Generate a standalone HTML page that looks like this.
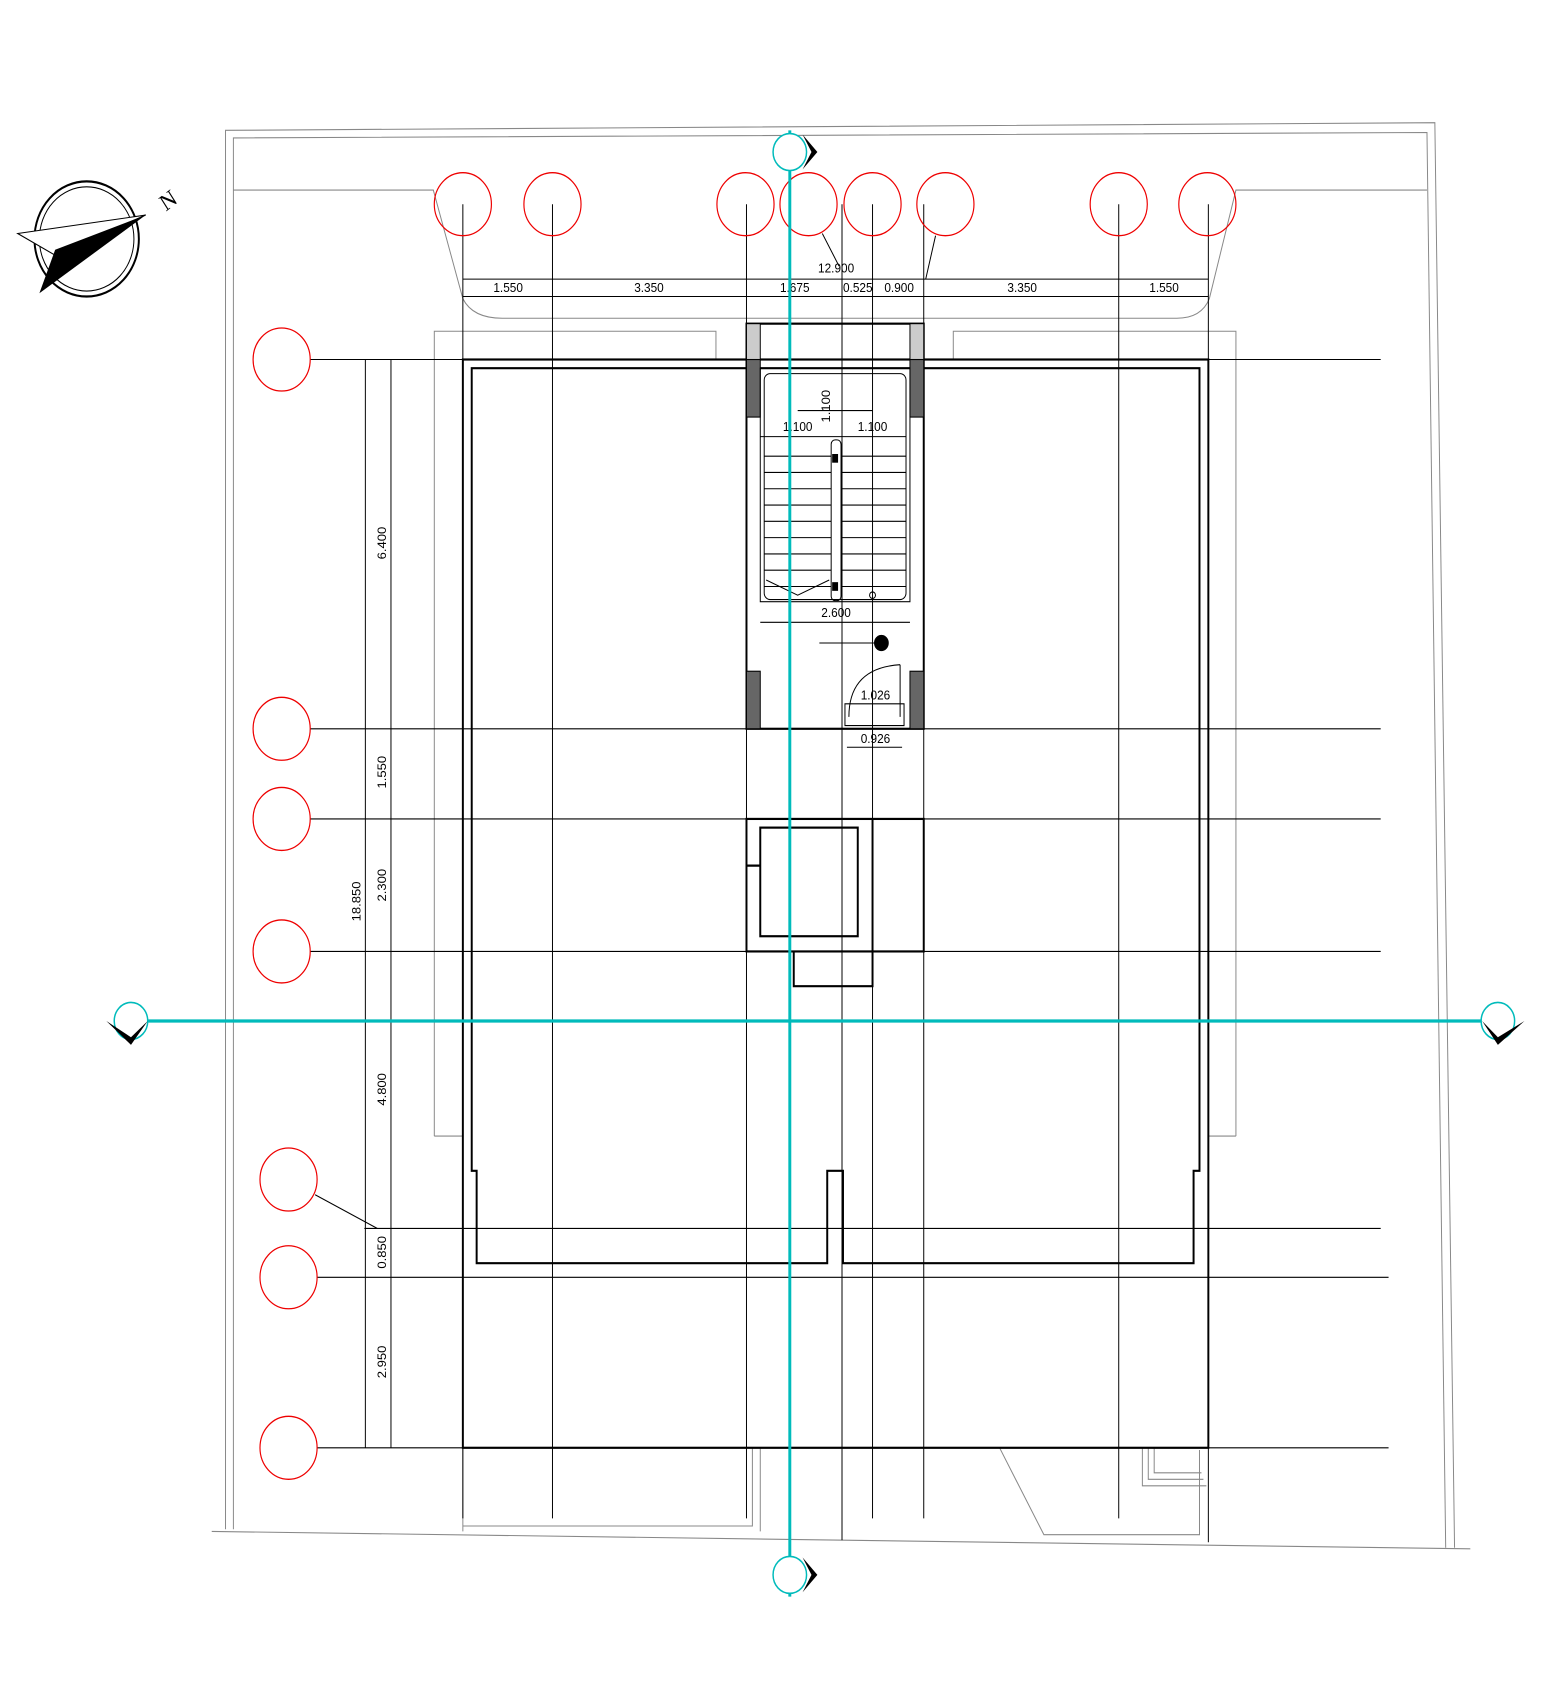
<!DOCTYPE html><html><head><style>body{margin:0;background:#fff}svg{display:block}</style></head><body>
<svg width="1544" height="1702" viewBox="0 0 1544 1560" preserveAspectRatio="none" xmlns="http://www.w3.org/2000/svg" font-family="Liberation Sans, sans-serif" font-size="12">
<g transform="scale(0.9848,0.9955)">
<g fill="none" stroke="#888" stroke-width="1">
<polyline points="215,1410 1493,1426"/><polyline points="229,1408 229,120 1457,113 1477,1425"/>
<polyline points="237,1408 237,127 1449,122 1468,1425"/>
<path d="M237,175 H440 L470,275 Q480,293 510,293 H1195 Q1220,293 1228,275 L1255,175 H1449"/>
<path d="M470,1333 V1410 M470,1405 H764 V1333 M772,1333 V1410 M1015,1333 L1060,1413 H1218 V1335"/>
<path d="M1160,1333 V1368 H1225 M1166,1333 V1362 H1222 M1172,1333 V1356 H1220"/>
<path d="M441,1046 V305 H727 V331 M1255,1046 V305 H968 V331 M441,1046 H470 M1227,1046 H1255"/>
</g>
<g stroke="#000" stroke-width="1" fill="none">
<path d="M470,188 V1398 M561,188 V1398 M758,188 V1398 M855,188 V1418 M886,188 V1398 M938,188 V1398 M1136,188 V1398 M1227,188 V1420"/>
<path d="M315,331 H1402 M315,671 H1402 M315,754 H1402 M315,876 H1402 M370,1131 H1402 M322,1176 H1410 M322,1333 H1410"/>
<path d="M371,331 V1333 M397,331 V1333 M320,1100 L383,1131"/>
<path d="M470,257 H1227 M470,273 H1227 M835,215 L852,245 M950,217 L940,257"/>
</g>
<g stroke="#000" stroke-width="2" fill="none">
<rect x="470" y="331" width="757" height="1002"/>
<path d="M479,1078 V339 H1218 V1078 H1212 V1163 H856 V1078 H840 V1163 H484 V1078 Z"/>
<rect x="758" y="298" width="180" height="373"/>
<rect x="758" y="754" width="180" height="122"/><rect x="772" y="762" width="99" height="100"/>
<path d="M886,754 V876 M758,797 H772 M806,876 V908 H886 V876"/>
</g>
<g fill="#666" stroke="#000"><rect x="758" y="331" width="14" height="53"/><rect x="924" y="331" width="14" height="53"/><rect x="758" y="618" width="14" height="53"/><rect x="924" y="618" width="14" height="53"/></g>
<g fill="#ccc" stroke="#000"><rect x="758" y="298" width="14" height="33"/><rect x="924" y="298" width="14" height="33"/></g>
<g stroke="#000" stroke-width="1" fill="none">
<rect x="772" y="339" width="152" height="215"/><rect x="776" y="344" width="144" height="208" rx="6"/>
<rect x="844" y="405" width="10" height="148" rx="4"/>
<path d="M776,420 H844 M776,435 H844 M776,450 H844 M776,465 H844 M776,480 H844 M776,495 H844 M776,510 H844 M776,525 H844 M776,540 H844"/>
<path d="M854,420 H920 M854,435 H920 M854,450 H920 M854,465 H920 M854,480 H920 M854,495 H920 M854,510 H920 M854,525 H920 M854,540 H920"/>
<path d="M778,534 L810,548 L842,534 M772,402 H920 M810,378 H886 M772,573 H924 M832,592 H895 M914,612 V660 M862,660 Q862,615 914,612 M858,648 H918 V668 H858 Z M860,688 H916"/>
<circle cx="895" cy="592" r="7" fill="#000"/><circle cx="886" cy="548" r="3"/>
</g>
<g fill="#000"><rect x="845" y="418" width="6" height="8"/><rect x="845" y="536" width="6" height="8"/></g>
<g fill="#000" font-size="12" text-anchor="middle">
<text x="849" y="251">12.900</text><text x="516" y="269">1.550</text><text x="659" y="269">3.350</text><text x="807" y="269">1.675</text><text x="871" y="269">0.525</text><text x="913" y="269">0.900</text><text x="1038" y="269">3.350</text><text x="1182" y="269">1.550</text>
<text x="810" y="397">1.100</text><text x="886" y="397">1.100</text><text x="849" y="568">2.600</text><text x="889" y="644">1.026</text><text x="889" y="684">0.926</text>
<text transform="translate(392,500) rotate(-90)">6.400</text><text transform="translate(392,711) rotate(-90)">1.550</text><text transform="translate(392,815) rotate(-90)">2.300</text><text transform="translate(366,830) rotate(-90)">18.850</text><text transform="translate(392,1003) rotate(-90)">4.800</text><text transform="translate(392,1153) rotate(-90)">0.850</text><text transform="translate(392,1254) rotate(-90)">2.950</text><text transform="translate(843,374) rotate(-90)">1.100</text>
</g>
<g fill="none" stroke="#e00" stroke-width="1.2">
<circle cx="470" cy="188" r="29"/><circle cx="561" cy="188" r="29"/><circle cx="757" cy="188" r="29"/><circle cx="821" cy="188" r="29"/><circle cx="886" cy="188" r="29"/><circle cx="960" cy="188" r="29"/><circle cx="1136" cy="188" r="29"/><circle cx="1226" cy="188" r="29"/>
<circle cx="286" cy="331" r="29"/><circle cx="286" cy="671" r="29"/><circle cx="286" cy="754" r="29"/><circle cx="286" cy="876" r="29"/><circle cx="293" cy="1086" r="29"/><circle cx="293" cy="1176" r="29"/><circle cx="293" cy="1333" r="29"/>
</g>
<g stroke="#00bbbb" stroke-width="3" fill="none"><path d="M802,120 V1470 M150,940 H1505"/></g>
<g stroke="#00bbbb" stroke-width="1.5" fill="#fff">
<circle cx="802" cy="140" r="17"/><circle cx="802" cy="1450" r="17"/><circle cx="133" cy="940" r="17"/><circle cx="1521" cy="940" r="17"/></g>
<g fill="#000"><path d="M815,124 L830,140 L815,156 L824,140Z M815,1434 L830,1450 L815,1466 L824,1450Z M108,940 L133,962 L150,940 L133,955Z M1505,940 L1521,962 L1548,940 L1521,955Z"/></g>
<g><circle cx="88" cy="220" r="53" fill="none" stroke="#000" stroke-width="2"/><circle cx="88" cy="220" r="48" fill="none" stroke="#000"/>
<path d="M18,215 L148,198 L56,235 Z" fill="#fff" stroke="#000"/><path d="M148,198 L40,270 L56,230 Z" fill="#000"/>
<text x="165" y="196" font-family="Liberation Serif, serif" font-size="22" transform="rotate(-35 165 190)">N</text></g>
</g>
</svg></body></html>
